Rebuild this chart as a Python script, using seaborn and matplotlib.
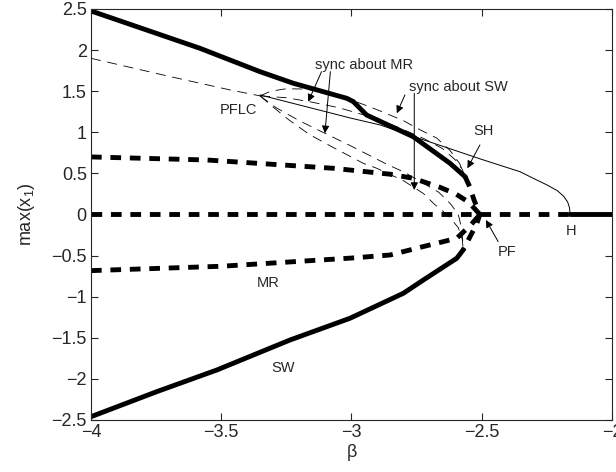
import numpy as np
import pandas as pd
import seaborn as sns
import matplotlib.pyplot as plt
from matplotlib.ticker import FuncFormatter

# stable SW branch (upper / lower) and its unstable part through PF
sw_up_x = [-4.0, -3.582, -3.351, -3.223, -3.018, -2.993, -2.942, -2.763, -2.622, -2.564]
sw_up_y = [2.476, 2.022, 1.737, 1.596, 1.413, 1.373, 1.21, 0.946, 0.623, 0.46]
sw_lo_x = [-4.0, -3.748, -3.517, -3.236, -3.006, -2.801, -2.724, -2.596, -2.571]
sw_lo_y = [-2.46, -2.156, -1.892, -1.527, -1.263, -0.959, -0.797, -0.533, -0.43]
sw_un_x = [-2.564, -2.545, -2.53, -2.515, -2.507, -2.52, -2.545, -2.571]
sw_un_y = [0.46, 0.33, 0.18, 0.06, 0.0, -0.12, -0.27, -0.43]

# MR branches (unstable)
mr_up_x = [-4.0, -3.556, -3.07, -2.852, -2.763, -2.66, -2.60, -2.55, -2.507]
mr_up_y = [0.70, 0.663, 0.562, 0.49, 0.44, 0.33, 0.25, 0.15, 0.0]
mr_lo_x = [-4.0, -3.5, -3.0, -2.852, -2.724, -2.596, -2.54, -2.507]
mr_lo_y = [-0.683, -0.63, -0.53, -0.493, -0.39, -0.29, -0.12, 0.0]

# trivial solution, Hopf point H
zero_un_x = [-4.0, -2.161]
zero_st_x = [-2.161, -2.0]

# thin solid branch from PFLC nose to H
hb_x = [-3.351, -3.0, -2.891, -2.763, -2.5, -2.353, -2.302, -2.25, -2.21, -2.185, -2.17, -2.163, -2.161]
hb_y = [1.454, 1.17, 1.09, 0.95, 0.67, 0.52, 0.44, 0.36, 0.29, 0.22, 0.15, 0.08, 0.0]

# thin dashed PFLC family
d0_x = [-4.0, -3.7, -3.466, -3.351]
d0_y = [1.90, 1.68, 1.515, 1.443]
d1_x = [-3.351, -3.31, -3.25, -3.17, -3.05, -2.93, -2.871, -2.80, -2.737, -2.673, -2.622, -2.585, -2.564]
d1_y = [1.443, 1.50, 1.53, 1.525, 1.45, 1.31, 1.235, 1.14, 1.03, 0.93, 0.78, 0.62, 0.46]
d2_x = [-3.351, -3.25, -3.166, -3.05, -2.93, -2.82, -2.72, -2.65, -2.60, -2.575, -2.564]
d2_y = [1.443, 1.42, 1.375, 1.30, 1.19, 1.06, 0.92, 0.80, 0.66, 0.55, 0.46]
d3_x = [-3.351, -3.29, -3.20, -3.11, -3.00, -2.87, -2.795, -2.73, -2.665, -2.62, -2.59, -2.575, -2.571]
d3_y = [1.443, 1.30, 1.14, 1.00, 0.83, 0.62, 0.51, 0.39, 0.27, 0.13, 0.0, -0.2, -0.43]
d4_x = [-3.351, -3.31, -3.24, -3.16, -3.076, -2.955, -2.903, -2.80, -2.724, -2.68, -2.63, -2.59, -2.575, -2.571]
d4_y = [1.443, 1.33, 1.15, 0.97, 0.825, 0.623, 0.562, 0.41, 0.255, 0.12, -0.01, -0.16, -0.3, -0.43]

labels = ['PFLC', 'SH', 'H', 'PF', 'MR', 'SW', 'sync about MR', 'sync about SW']
label_x = [-3.435, -2.494, -2.159, -2.402, -3.319, -3.262, -2.952, -2.591]
label_y = [1.27, 1.02, -0.197, -0.453, -0.837, -1.871, 1.818, 1.551]

# arrows: (tail, head)
arrows = [((-3.115, 1.737), (-3.166, 1.372)),
          ((-3.081, 1.737), (-3.102, 0.988)),
          ((-2.795, 1.454), (-2.826, 1.231)),
          ((-2.759, 1.474), (-2.759, 0.298)),
          ((-2.507, 0.846), (-2.555, 0.562)),
          ((-2.437, -0.33), (-2.484, -0.067))]

sns.set_style('ticks')
plt.rcParams['font.family'] = ['Liberation Sans', 'DejaVu Sans']
plt.rcParams['mathtext.default'] = 'regular'

fig = plt.figure(figsize=(6.16, 4.72), dpi=100)
ax = fig.add_axes([0.1477, 0.1102, 0.8458, 0.8708])

THICK = 3.5
thick_dash = (0, (2.2, 1.8))
thin_dash = (0, (12, 8))


def curve(x, y, lw, ls):
    sns.lineplot(x=x, y=y, sort=False, estimator=None, color='k',
                 lw=lw, linestyle=ls, ax=ax, legend=False)


curve(sw_up_x, sw_up_y, THICK, '-')
curve(sw_lo_x, sw_lo_y, THICK, '-')
curve(sw_un_x, sw_un_y, THICK, thick_dash)
curve(mr_up_x, mr_up_y, THICK, thick_dash)
curve(mr_lo_x, mr_lo_y, THICK, thick_dash)
curve(zero_un_x, [0, 0], THICK, thick_dash)
curve(zero_st_x, [0, 0], THICK, '-')
curve(hb_x, hb_y, 0.7, '-')
for dx, dy in [(d0_x, d0_y), (d1_x, d1_y), (d2_x, d2_y), (d3_x, d3_y), (d4_x, d4_y)]:
    curve(dx, dy, 0.6, thin_dash)

for t, lx, ly in zip(labels, label_x, label_y):
    ax.text(lx, ly, t, fontsize=10.5, ha='center', va='center')

for tail, head in arrows:
    ax.annotate('', xy=head, xytext=tail,
                arrowprops=dict(arrowstyle='-|>', color='k', lw=0.7,
                                mutation_scale=11, shrinkA=0, shrinkB=0))

ax.set_xlim(-4, -2)
ax.set_ylim(-2.5, 2.5)
ax.set_xticks(np.arange(-4, -1.99, 0.5))
ax.set_yticks(np.arange(-2.5, 2.51, 0.5))
fmt = FuncFormatter(lambda v, p: ('%g' % round(v, 2)).replace('-', '\u2212'))
ax.xaxis.set_major_formatter(fmt)
ax.yaxis.set_major_formatter(fmt)
ax.tick_params(direction='in', top=True, right=True, length=5, width=0.8,
               labelsize=13, pad=3)
for s in ax.spines.values():
    s.set_linewidth(0.8)
    s.set_visible(True)
ax.set_xlabel('\u03b2', fontsize=13, labelpad=2)
ax.set_ylabel('max(x$_1$)', fontsize=13, labelpad=10)

fig.savefig('out.png', dpi=100)
